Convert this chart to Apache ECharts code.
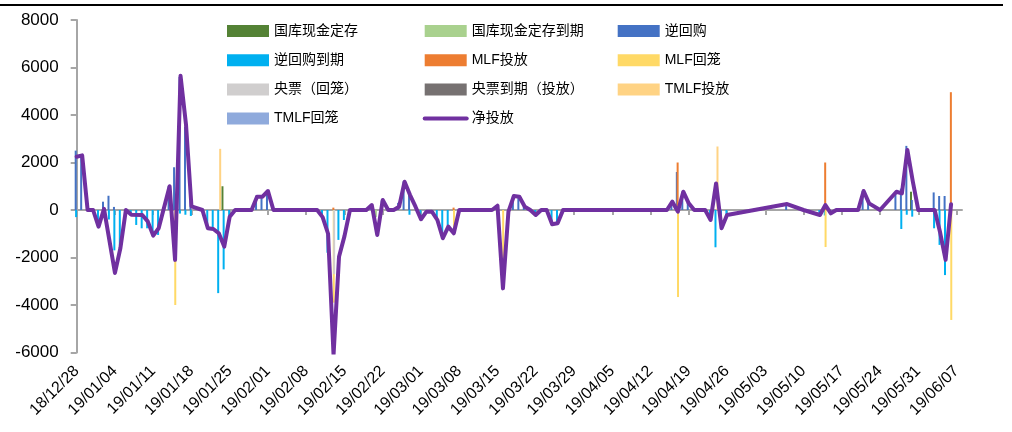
<!DOCTYPE html>
<html>
<head>
<meta charset="utf-8">
<script src="https://cdn.jsdelivr.net/npm/echarts@6/dist/echarts.min.js"></script>
<style>
  html, body { margin: 0; padding: 0; background: #ffffff; }
  #chart { width: 1012px; height: 432px; }
</style>
</head>
<body>
<div id="chart"></div>
<script>
// Calendar span of the horizontal axis (one category per day, label every 7 days)
const startDay = '2018-12-28';
const endDay = '2019-06-08';

// Vertical axis ticks
const yMin = -6000;
const yMax = 8000;
const yStep = 2000;

// Open-market operations, 亿元, as [date, amount] pairs
const treasuryDeposit = [['19/01/24', 1000], ['19/05/30', 770]];
const treasuryDepositDue = [['19/02/21', -300]];
const reverseRepo = [
  ['18/12/28', 2500], ['18/12/29', 2300], ['19/01/02', 350], ['19/01/03', 600], ['19/01/04', 130],
  ['19/01/14', 1000], ['19/01/15', 1800], ['19/01/16', 5600], ['19/01/17', 3500], ['19/01/18', 400],
  ['19/01/30', 600], ['19/01/31', 500], ['19/02/01', 800], ['19/02/20', 200], ['19/02/22', 400],
  ['19/02/25', 300], ['19/02/26', 1200], ['19/02/27', 800], ['19/03/15', 180], ['19/03/18', 600],
  ['19/03/19', 550], ['19/03/20', 150], ['19/04/16', 350], ['19/04/17', 1600], ['19/04/18', 770],
  ['19/04/19', 300], ['19/05/07', 250], ['19/05/21', 800], ['19/05/22', 280], ['19/05/27', 700],
  ['19/05/28', 900], ['19/05/29', 2700], ['19/05/30', 420], ['19/06/03', 740], ['19/06/04', 590],
  ['19/06/05', 590]
];
const reverseRepoDue = [
  ['18/12/28', -300], ['19/01/01', -600], ['19/01/02', -300], ['19/01/03', -400], ['19/01/04', -1700],
  ['19/01/05', -1500], ['19/01/07', -250], ['19/01/08', -630], ['19/01/09', -770], ['19/01/10', -770],
  ['19/01/11', -1000], ['19/01/12', -1050], ['19/01/16', -150], ['19/01/17', -200], ['19/01/18', -250],
  ['19/01/21', -800], ['19/01/22', -800], ['19/01/23', -3500], ['19/01/24', -2500], ['19/01/25', -280],
  ['19/02/11', -300], ['19/02/12', -1800], ['19/02/14', -1260], ['19/02/15', -420], ['19/02/27', -200],
  ['19/03/01', -400], ['19/03/04', -420], ['19/03/05', -1200], ['19/03/06', -660], ['19/03/22', -200],
  ['19/03/25', -600], ['19/03/26', -500], ['19/04/23', -420], ['19/04/24', -1570], ['19/04/25', -770],
  ['19/04/26', -210], ['19/05/13', -210], ['19/05/14', -230], ['19/05/15', -140], ['19/05/28', -800],
  ['19/05/29', -200], ['19/05/30', -280], ['19/06/03', -770], ['19/06/04', -1470], ['19/06/05', -2740]
];
const mlfInjection = [['19/02/13', 100], ['19/03/07', 100], ['19/04/17', 2000], ['19/05/14', 2000], ['19/06/06', 4960]];
const mlfMaturity = [
  ['19/01/15', -4000], ['19/02/13', -3900], ['19/03/07', -1000], ['19/03/16', -2400],
  ['19/04/17', -3665], ['19/05/14', -1560], ['19/06/06', -4630]
];
const billIssue = [['19/02/13', -2700]];
const billDue = [];
const tmlfInjection = [['19/01/23', 2575], ['19/04/24', 2674]];
const tmlfMaturity = [];
const netInjection = [
  ['18/12/28', 2245], ['18/12/29', 2300], ['18/12/30', 0], ['18/12/31', 0], ['19/01/01', -700],
  ['19/01/02', 50], ['19/01/04', -2650], ['19/01/05', -1600], ['19/01/06', 0], ['19/01/07', -200],
  ['19/01/09', -210], ['19/01/10', -480], ['19/01/11', -1080], ['19/01/12', -770], ['19/01/14', 1000],
  ['19/01/15', -2100], ['19/01/16', 5650], ['19/01/17', 3600], ['19/01/18', 150], ['19/01/20', 0],
  ['19/01/21', -770], ['19/01/22', -800], ['19/01/23', -980], ['19/01/24', -1540], ['19/01/25', -280],
  ['19/01/26', 0], ['19/01/29', 0], ['19/01/30', 560], ['19/01/31', 560], ['19/02/01', 800],
  ['19/02/02', 0], ['19/02/10', 0], ['19/02/11', -300], ['19/02/12', -1000], ['19/02/13', -6100],
  ['19/02/14', -1970], ['19/02/15', -1100], ['19/02/16', 0], ['19/02/19', 0], ['19/02/20', 210],
  ['19/02/21', -1050], ['19/02/22', 420], ['19/02/23', 0], ['19/02/24', 0], ['19/02/25', 140],
  ['19/02/26', 1190], ['19/02/27', 630], ['19/02/28', 140], ['19/03/01', -390], ['19/03/02', -70],
  ['19/03/03', -70], ['19/03/04', -420], ['19/03/05', -1190], ['19/03/06', -700], ['19/03/07', -980],
  ['19/03/08', 0], ['19/03/14', 0], ['19/03/15', 180], ['19/03/16', -3300], ['19/03/17', -70],
  ['19/03/18', 590], ['19/03/19', 560], ['19/03/20', 140], ['19/03/21', 0], ['19/03/22', -210],
  ['19/03/23', 0], ['19/03/24', 0], ['19/03/25', -600], ['19/03/26', -560], ['19/03/27', 0],
  ['19/04/15', 0], ['19/04/16', 350], ['19/04/17', -70], ['19/04/18', 770], ['19/04/19', 280],
  ['19/04/20', 0], ['19/04/22', 0], ['19/04/23', -420], ['19/04/24', 1120], ['19/04/25', -770],
  ['19/04/26', -210], ['19/05/07', 250], ['19/05/10', 0], ['19/05/13', -210], ['19/05/14', 210],
  ['19/05/15', -140], ['19/05/16', 0], ['19/05/20', 0], ['19/05/21', 800], ['19/05/22', 280],
  ['19/05/24', 0], ['19/05/27', 770], ['19/05/28', 700], ['19/05/29', 2530], ['19/05/30', 1200],
  ['19/05/31', 0], ['19/06/03', 0], ['19/06/04', -950], ['19/06/05', -2100], ['19/06/06', 240]
];

// One category per calendar day, labelled yy/MM/dd
function fmtDay(t) {
  const d = new Date(t);
  const y = String(d.getUTCFullYear()).slice(2);
  const m = String(d.getUTCMonth() + 1).padStart(2, '0');
  const dd = String(d.getUTCDate()).padStart(2, '0');
  return y + '/' + m + '/' + dd;
}
const days = [];
for (let t = Date.parse(startDay + 'T00:00:00Z'); t <= Date.parse(endDay + 'T00:00:00Z'); t += 86400000) {
  days.push(fmtDay(t));
}
function onDays(pairs) {
  const arr = days.map(() => null);
  pairs.forEach(([k, v]) => { arr[days.indexOf(k)] = v; });
  return arr;
}

const barDefs = [
  ['国库现金定存', treasuryDeposit, '#548235'],
  ['国库现金定存到期', treasuryDepositDue, '#A9D18E'],
  ['逆回购', reverseRepo, '#4472C4'],
  ['逆回购到期', reverseRepoDue, '#00B0F0'],
  ['MLF投放', mlfInjection, '#ED7D31'],
  ['MLF回笼', mlfMaturity, '#FFD966'],
  ['央票（回笼）', billIssue, '#D0CECE'],
  ['央票到期（投放）', billDue, '#767171'],
  ['TMLF投放', tmlfInjection, '#FFD384'],
  ['TMLF回笼', tmlfMaturity, '#8FAADC']
];

const series = barDefs.map(([name, pairs, color]) => ({
  name: name,
  type: 'bar',
  xAxisIndex: 0,
  yAxisIndex: 0,
  barWidth: 2,
  barGap: '-80%',
  itemStyle: { color: color },
  data: onDays(pairs),
  animation: false
}));
series.push({
  name: '净投放',
  type: 'line',
  xAxisIndex: 0,
  yAxisIndex: 0,
  symbol: 'none',
  connectNulls: true,
  lineStyle: { color: '#7030A0', width: 4, join: 'round', cap: 'round' },
  itemStyle: { color: '#7030A0' },
  data: onDays(netInjection),
  z: 5,
  animation: false
});

const fontFamily = '"Liberation Sans", Arial, "Noto Sans CJK SC", sans-serif';
const legendBase = {
  orient: 'vertical',
  top: 24,
  padding: 0,
  itemGap: 15.2,
  itemWidth: 42,
  itemHeight: 12,
  selectedMode: false,
  textStyle: { fontSize: 14, color: '#000000', fontFamily: fontFamily, padding: [0, 0, 5, 0] }
};
function legendItems(names) {
  return names.map(n => n === '净投放'
    ? { name: n, itemStyle: { opacity: 0 }, lineStyle: { width: 4, color: '#7030A0' } }
    : { name: n, icon: 'rect' });
}

const chart = echarts.init(document.getElementById('chart'), null, { renderer: 'canvas' });
chart.setOption({
  backgroundColor: '#ffffff',
  animation: false,
  textStyle: { fontFamily: fontFamily },
  grid: { left: 76.7, right: 50, top: 20, bottom: 79.5, containLabel: false },
  graphic: [{
    type: 'rect',
    shape: { x: 0, y: 4, width: 1003, height: 2 },
    style: { fill: '#000000' },
    silent: true
  }],
  legend: [
    Object.assign({}, legendBase, { left: 227, data: legendItems(['国库现金定存', '逆回购到期', '央票（回笼）', 'TMLF回笼']) }),
    Object.assign({}, legendBase, { left: 422.7, data: legendItems(['国库现金定存到期', 'MLF投放', '央票到期（投放）', '净投放']) }),
    Object.assign({}, legendBase, { left: 617.7, data: legendItems(['逆回购', 'MLF回笼', 'TMLF投放']) })
  ],
  xAxis: [
    {
      type: 'category',
      data: days,
      boundaryGap: false,
      position: 'bottom',
      axisLine: { show: true, onZero: true, lineStyle: { color: '#A6A6A6', width: 2 } },
      axisTick: { show: true, interval: 6, length: 5, lineStyle: { color: '#A6A6A6', width: 2 } },
      axisLabel: { show: false },
      splitLine: { show: false }
    },
    {
      type: 'category',
      data: days,
      boundaryGap: false,
      position: 'bottom',
      axisLine: { show: false, onZero: false },
      axisTick: { show: false },
      axisLabel: { show: true, interval: 6, rotate: 45, fontSize: 16, color: '#000000', margin: 16, fontFamily: fontFamily },
      splitLine: { show: false }
    }
  ],
  yAxis: {
    type: 'value',
    min: yMin,
    max: yMax,
    interval: yStep,
    axisLine: { show: true, onZero: false, lineStyle: { color: '#A6A6A6', width: 2 } },
    axisTick: { show: true, length: 6, lineStyle: { color: '#A6A6A6', width: 2 } },
    axisLabel: { fontSize: 17, color: '#000000', margin: 18, fontFamily: fontFamily, formatter: v => String(v) },
    splitLine: { show: false }
  },
  series: series
});
</script>
</body>
</html>
